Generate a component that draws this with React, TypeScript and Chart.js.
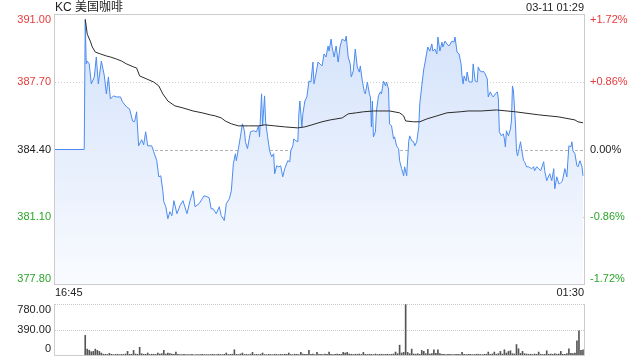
import React, { useEffect, useRef } from "react";
import { Chart, registerables } from "chart.js";

Chart.register(...registerables);

const TITLE = "KC 美国咖啡";
const STAMP = "03-11 01:29";
const START_LABEL = "16:45";
const END_LABEL = "01:30";
const WATERMARK = "sina.com";
const PREV_CLOSE = 384.4;
const PRICE_TICKS = [391.0, 387.7, 384.4, 381.1, 377.8];
const VOL_TICKS = [780, 390, 0];
const TOTAL_MINUTES = 525;

// minute offsets from 16:45 and last price at that minute
const priceMinutes = [
  0, 29, 30, 31, 32, 34, 36, 39, 41, 43, 46, 49, 51, 53, 55, 58, 61, 65, 67, 71,
  74, 77, 79, 81, 83, 86, 88, 90, 92, 96, 98, 101, 103, 105, 107, 108, 110, 112, 114, 116,
  118, 121, 124, 127, 131, 134, 137, 139, 143, 146, 148, 151, 153, 155, 157, 160, 163, 165, 168, 170,
  173, 175, 177, 179, 180, 182, 184, 186, 188, 189, 191, 194, 197, 200, 202, 203, 205, 206, 208, 209,
  211, 213, 215, 217, 218, 220, 222, 224, 226, 228, 231, 233, 234, 236, 237, 239, 241, 242, 243, 245,
  246, 248, 250, 252, 254, 256, 257, 259, 261, 263, 265, 267, 269, 271, 272, 274, 275, 277, 279, 281,
  283, 285, 288, 289, 291, 293, 294, 296, 298, 300, 302, 303, 305, 307, 308, 310, 312, 313, 314, 315,
  316, 318, 319, 321, 323, 324, 326, 328, 329, 331, 332, 334, 336, 337, 339, 341, 342, 344, 346, 347,
  349, 351, 352, 354, 356, 357, 359, 361, 362, 364, 366, 367, 369, 370, 372, 374, 375, 377, 379, 380,
  382, 384, 385, 387, 389, 391, 394, 396, 397, 399, 401, 403, 404, 405, 406, 408, 409, 411, 414, 415,
  417, 419, 420, 422, 424, 425, 427, 429, 430, 432, 434, 435, 437, 439, 440, 441, 443, 445, 446, 447,
  448, 450, 452, 453, 454, 455, 457, 458, 459, 460, 462, 463, 465, 466, 468, 470, 473, 475, 476, 478,
  480, 482, 485, 486, 488, 490, 491, 493, 495, 496, 498, 500, 501, 503, 504, 506, 508, 509, 510, 512,
  513, 514, 516, 518, 519, 521, 523, 524,
];
const prices = [
  384.4, 384.4, 390.75, 388.6, 388.74, 388.6, 387.62, 387.96, 388.94, 387.62, 388.74, 388.01, 387.13, 387.96, 386.88, 387.03, 386.98, 386.98, 386.74, 386.49,
  386.39, 385.8, 385.76, 386.25, 384.58, 384.88, 384.63, 385.27, 384.58, 384.58, 384.29, 383.85, 383.06, 383.11, 382.37, 381.84, 381.59, 381.0, 381.35, 381.15,
  381.89, 381.25, 381.64, 381.89, 381.25, 381.89, 382.37, 381.59, 381.74, 381.98, 382.13, 382.08, 382.03, 381.49, 381.49, 381.25, 381.59, 381.15, 380.91, 381.74,
  381.98, 382.37, 383.7, 384.19, 383.85, 384.44, 385.02, 385.66, 385.32, 384.78, 384.44, 385.27, 385.32, 385.27, 385.56, 385.02, 387.13, 385.56, 387.03, 385.8,
  385.02, 384.34, 384.04, 384.19, 383.21, 383.6, 383.55, 383.6, 383.06, 383.46, 383.85, 383.8, 384.34, 384.58, 384.92, 384.83, 384.78, 386.15, 386.78, 385.51,
  386.15, 386.78, 386.98, 387.76, 387.71, 388.69, 387.62, 388.11, 388.69, 388.6, 388.5, 389.09, 388.94, 389.48, 389.23, 389.82, 389.43, 388.94, 389.48, 388.69,
  389.48, 389.82, 389.72, 389.97, 388.94, 388.6, 387.96, 388.25, 389.33, 388.45, 388.2, 388.5, 387.76, 387.23, 387.13, 387.71, 387.13, 386.98, 385.51, 386.78,
  385.02, 385.27, 386.29, 387.03, 387.23, 387.13, 387.76, 387.52, 387.71, 387.37, 385.66, 385.56, 384.92, 385.02, 384.58, 384.44, 383.85, 383.46, 383.11, 383.55,
  383.11, 384.78, 385.07, 384.83, 384.78, 384.58, 384.78, 385.51, 386.64, 387.52, 388.35, 388.6, 389.18, 389.43, 389.23, 389.58, 389.23, 389.33, 389.09, 389.92,
  389.23, 389.67, 389.43, 389.72, 389.58, 389.48, 389.72, 389.67, 389.92, 389.18, 389.09, 388.6, 387.96, 387.62, 388.01, 387.76, 388.2, 387.71, 387.71, 388.6,
  387.76, 387.71, 388.45, 388.25, 388.2, 388.25, 388.11, 387.86, 386.98, 387.23, 387.03, 386.98, 387.13, 387.23, 386.88, 385.27, 385.07, 385.17, 384.92, 384.53,
  385.32, 385.07, 385.41, 385.8, 387.52, 387.27, 385.66, 384.34, 384.09, 384.29, 384.78, 384.44, 383.85, 383.8, 383.55, 383.55, 383.46, 383.55, 383.36, 383.55,
  383.46, 383.36, 383.8, 383.36, 382.87, 383.11, 383.21, 382.87, 383.46, 382.47, 383.06, 382.72, 382.72, 382.82, 382.96, 383.46, 383.06, 383.85, 384.58, 384.53,
  384.78, 384.34, 384.19, 383.6, 383.55, 383.85, 383.55, 383.11,
];

// running average price line
const avgMinutes = [
  30, 32, 35, 37, 40, 45, 51, 55, 61, 66, 71, 78, 81, 84, 91, 98, 103, 107, 112, 119,
  127, 137, 146, 154, 159, 165, 169, 175, 182, 192, 202, 208, 218, 228, 241, 248, 255, 265, 273, 285,
  291, 299, 306, 316, 332, 342, 346, 348, 356, 362, 369, 379, 389, 402, 410, 423, 438, 457, 480, 500,
  516, 519, 524,
];
const avgPrices = [
  390.8, 390.06, 389.72, 389.43, 389.18, 389.09, 388.99, 388.94, 388.84, 388.74, 388.6, 388.45, 388.4, 388.01, 387.86, 387.71, 387.52, 387.13, 386.78, 386.54,
  386.44, 386.29, 386.2, 386.1, 386.05, 385.95, 385.8, 385.66, 385.56, 385.56, 385.56, 385.61, 385.56, 385.51, 385.46, 385.51, 385.61, 385.76, 385.85, 385.95,
  386.15, 386.2, 386.25, 386.29, 386.29, 386.2, 386.05, 385.8, 385.76, 385.76, 385.9, 386.05, 386.2, 386.25, 386.29, 386.29, 386.34, 386.25, 386.1, 386.0,
  385.85, 385.76, 385.71,
];

// volume, one value every 2 minutes starting at minute 30
const VOL_START = 30;
const VOL_STEP = 2;
const volumes = [
  300, 90, 72, 50, 55, 90, 70, 55, 30, 12,
  10, 8, 25, 10, 6, 8, 12, 6, 10, 8,
  15, 55, 10, 12, 70, 15, 10, 118, 20, 12,
  10, 30, 8, 12, 10, 8, 30, 15, 20, 70,
  15, 30, 20, 15, 12, 45, 10, 8, 6, 10,
  5, 8, 6, 10, 4, 6, 8, 5, 10, 6,
  8, 5, 6, 10, 8, 6, 12, 8, 6, 10,
  30, 8, 10, 12, 80, 10, 8, 15, 30, 8,
  10, 6, 12, 40, 8, 10, 6, 12, 30, 8,
  6, 10, 8, 5, 12, 8, 6, 10, 8, 12,
  10, 30, 8, 6, 12, 10, 8, 40, 15, 10,
  12, 70, 10, 15, 8, 40, 12, 10, 8, 15,
  10, 45, 12, 8, 10, 15, 10, 12, 40, 30,
  40, 15, 10, 8, 12, 10, 15, 8, 40, 10,
  8, 12, 10, 6, 15, 8, 10, 12, 8, 10,
  12, 8, 10, 15, 45, 20, 150, 30, 40, 770,
  40, 20, 90, 15, 12, 20, 10, 70, 55, 20,
  85, 15, 20, 80, 25, 80, 20, 12, 10, 8,
  10, 12, 8, 6, 10, 12, 8, 40, 10, 8,
  12, 10, 6, 8, 10, 12, 8, 6, 10, 12,
  45, 10, 15, 45, 12, 20, 55, 15, 80, 30,
  55, 65, 20, 15, 160, 95, 25, 55, 20, 15,
  10, 12, 8, 15, 10, 45, 12, 8, 10, 65,
  12, 15, 10, 20, 12, 15, 55, 10, 12, 20,
  95, 25, 20, 30, 215, 370, 70, 80,
];

const FONT = '"Liberation Sans", Arial, "Noto Sans CJK SC", sans-serif';
const RED = "#e83a3a";
const GREEN = "#2aa52a";
const DARK = "#222222";
const FRAME = "#cccccc";

function tickColor(v: number): string {
  if (v > PREV_CLOSE + 1e-6) return RED;
  if (v < PREV_CLOSE - 1e-6) return GREEN;
  return DARK;
}

function pctLabel(v: number): string {
  const p = ((v - PREV_CLOSE) / PREV_CLOSE) * 100;
  if (Math.abs(p) < 0.005) return "0.00%";
  return (p > 0 ? "+" : "") + p.toFixed(2) + "%";
}

function hLine(ctx: CanvasRenderingContext2D, x1: number, x2: number, y: number) {
  ctx.beginPath();
  ctx.moveTo(x1, y);
  ctx.lineTo(x2, y);
  ctx.stroke();
}

const mainDecor = {
  id: "mainDecor",
  beforeDatasetsDraw(chart: any) {
    const { ctx, chartArea: a } = chart;
    const y = chart.scales.y;
    ctx.save();
    ctx.lineWidth = 1;
    PRICE_TICKS.forEach((v, i) => {
      if (i === 0 || i === PRICE_TICKS.length - 1) return;
      const py = Math.round(y.getPixelForValue(v)) + 0.5;
      const mid = Math.abs(v - PREV_CLOSE) < 1e-6;
      ctx.strokeStyle = mid ? "#b4b4b4" : "#cfcfcf";
      ctx.setLineDash(mid ? [3, 2] : [1, 2]);
      hLine(ctx, a.left, a.right, py);
    });
    ctx.setLineDash([]);
    ctx.font = "11px " + FONT;
    ctx.fillStyle = "#cfcfcf";
    ctx.textAlign = "right";
    ctx.textBaseline = "middle";
    ctx.fillText(WATERMARK, a.right - 11, a.bottom - 6);
    ctx.restore();
  },
  afterDraw(chart: any) {
    const { ctx, chartArea: a } = chart;
    const y = chart.scales.y;
    ctx.save();
    ctx.strokeStyle = FRAME;
    ctx.lineWidth = 1;
    ctx.strokeRect(Math.round(a.left) - 0.5, Math.round(a.top) - 0.5, Math.round(a.right - a.left) + 1, Math.round(a.bottom - a.top) + 1);
    ctx.font = "11px " + FONT;
    ctx.textBaseline = "middle";
    PRICE_TICKS.forEach((v, i) => {
      let py = y.getPixelForValue(v);
      if (i === 0) py += 5;
      if (i === PRICE_TICKS.length - 1) py -= 5;
      ctx.fillStyle = tickColor(v);
      ctx.textAlign = "right";
      ctx.fillText(v.toFixed(2), a.left - 4, py);
      ctx.textAlign = "left";
      ctx.fillText(pctLabel(v), a.right + 6, py);
    });
    ctx.fillStyle = DARK;
    ctx.textAlign = "left";
    ctx.font = "12px " + FONT;
    ctx.fillText(TITLE, a.left, 8);
    ctx.font = "11px " + FONT;
    ctx.textAlign = "right";
    ctx.fillText(STAMP, a.right, 8);
    ctx.textAlign = "left";
    ctx.fillText(START_LABEL, a.left, 293);
    ctx.textAlign = "right";
    ctx.fillText(END_LABEL, a.right, 293);
    ctx.restore();
  },
};

const volDecor = {
  id: "volDecor",
  beforeDatasetsDraw(chart: any) {
    const { ctx, chartArea: a } = chart;
    const y = chart.scales.y;
    ctx.save();
    ctx.lineWidth = 1;
    ctx.strokeStyle = "#c8c8c8";
    ctx.setLineDash([1, 1]);
    VOL_TICKS.forEach((v) => {
      if (v === 0) return;
      const py = Math.round(y.getPixelForValue(v)) + 0.5;
      hLine(ctx, a.left, a.right, py);
    });
    ctx.setLineDash([]);
    ctx.strokeStyle = FRAME;
    ctx.beginPath();
    ctx.moveTo(Math.round(a.left) - 0.5, Math.round(a.top));
    ctx.lineTo(Math.round(a.left) - 0.5, Math.round(a.bottom) + 0.5);
    ctx.lineTo(Math.round(a.right) + 0.5, Math.round(a.bottom) + 0.5);
    ctx.lineTo(Math.round(a.right) + 0.5, Math.round(a.top));
    ctx.stroke();
    ctx.restore();
  },
  afterDraw(chart: any) {
    const { ctx, chartArea: a } = chart;
    const y = chart.scales.y;
    ctx.save();
    ctx.font = "11px " + FONT;
    ctx.fillStyle = DARK;
    ctx.textAlign = "right";
    ctx.textBaseline = "middle";
    VOL_TICKS.forEach((v, i) => {
      let py = y.getPixelForValue(v);
      if (i === 0) py += 6;
      if (i === VOL_TICKS.length - 1) py -= 6;
      ctx.fillText(v === 0 ? "0" : v.toFixed(2), a.left - 4, py);
    });
    ctx.restore();
  },
};

export default function App() {
  const mainRef = useRef<HTMLCanvasElement>(null);
  const volRef = useRef<HTMLCanvasElement>(null);

  useEffect(() => {
    const priceData = priceMinutes.map((m, i) => ({ x: m, y: prices[i] }));
    const avgData = avgMinutes.map((m, i) => ({ x: m, y: avgPrices[i] }));
    const volData = volumes.map((v, i) => ({ x: VOL_START + i * VOL_STEP, y: v }));

    const main = new Chart(mainRef.current as HTMLCanvasElement, {
      type: "line",
      data: {
        datasets: [
          {
            data: avgData,
            borderColor: "#2b2b2b",
            borderWidth: 1,
            pointRadius: 0,
            fill: false,
            tension: 0,
            order: 0,
          },
          {
            data: priceData,
            borderColor: "#4b8bf0",
            borderWidth: 1,
            pointRadius: 0,
            tension: 0,
            fill: "start",
            order: 1,
            backgroundColor: (c: any) => {
              const a = c.chart.chartArea;
              if (!a) return "rgba(213,227,250,0.8)";
              const g = c.chart.ctx.createLinearGradient(0, a.top, 0, a.bottom);
              g.addColorStop(0, "#d2e1fa");
              g.addColorStop(1, "#f9fbff");
              return g;
            },
          },
        ],
      },
      options: {
        responsive: false,
        animation: false,
        events: [],
        layout: { padding: { left: 55, right: 56, top: 15, bottom: 16 } },
        plugins: { legend: { display: false }, tooltip: { enabled: false } },
        scales: {
          x: { type: "linear", min: 0, max: TOTAL_MINUTES, display: false },
          y: { type: "linear", min: PRICE_TICKS[PRICE_TICKS.length - 1], max: PRICE_TICKS[0], display: false },
        },
      },
      plugins: [mainDecor],
    } as any);

    const vol = new Chart(volRef.current as HTMLCanvasElement, {
      type: "bar",
      data: {
        datasets: [
          {
            data: volData,
            backgroundColor: "#555555",
            borderWidth: 0,
            barThickness: 1,
          },
        ],
      },
      options: {
        responsive: false,
        animation: false,
        events: [],
        layout: { padding: { left: 55, right: 56, top: 4, bottom: 5 } },
        plugins: { legend: { display: false }, tooltip: { enabled: false } },
        scales: {
          x: { type: "linear", min: 0, max: TOTAL_MINUTES, offset: false, display: false },
          y: { type: "linear", min: 0, max: VOL_TICKS[0], display: false },
        },
      },
      plugins: [volDecor],
    } as any);

    return () => {
      main.destroy();
      vol.destroy();
    };
  }, []);

  return (
    <div style={{ position: "absolute", left: 0, top: 0, width: 640, height: 360, background: "#ffffff" }}>
      <canvas ref={mainRef} width={640} height={300} style={{ position: "absolute", left: 0, top: 0 }} />
      <canvas ref={volRef} width={640} height={60} style={{ position: "absolute", left: 0, top: 300 }} />
    </div>
  );
}
